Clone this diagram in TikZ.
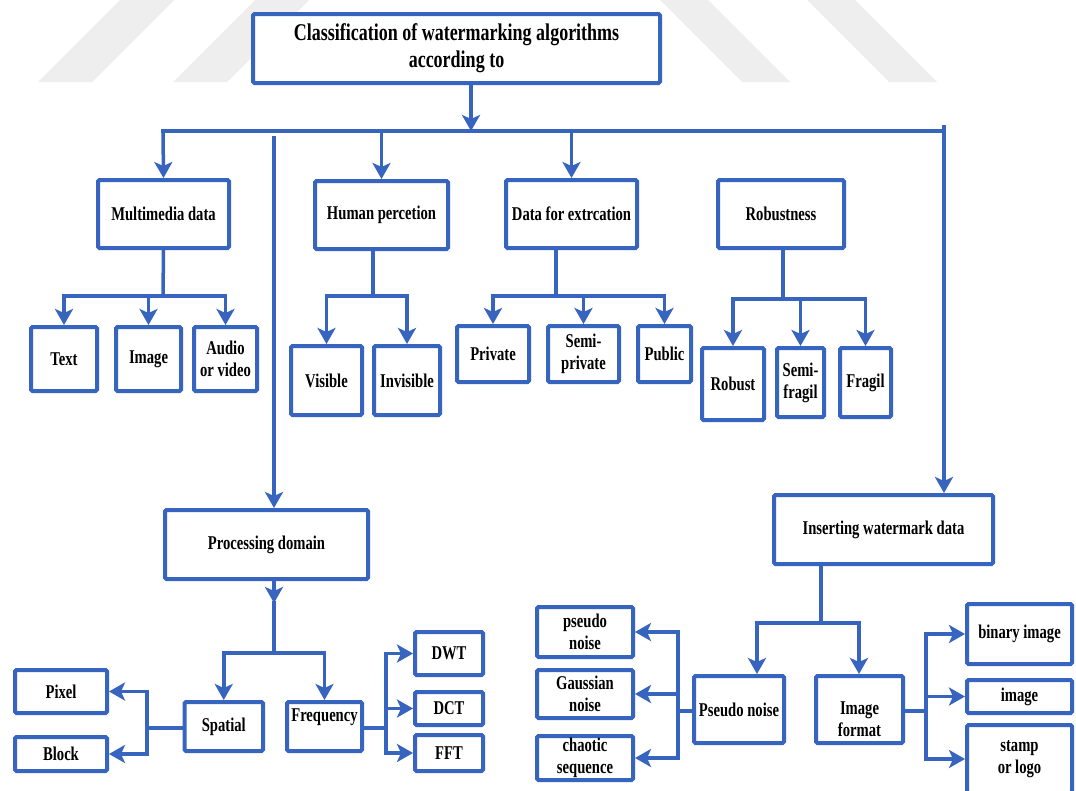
\documentclass[tikz,border=0pt]{standalone}
\usepackage{fontspec}
\setmainfont{Liberation Serif}[FakeStretch=0.75]
\usetikzlibrary{arrows.meta,calc}
\definecolor{wblue}{RGB}{54,100,190}
\definecolor{wgray}{RGB}{238,238,238}
\newcommand\bx[6]{\node[box,minimum width=#4pt,minimum height=#5pt] (#1) at (#2,#3) {#6};}
\begin{document}
\begin{tikzpicture}[x=1pt,y=-1pt,
  box/.style={draw=wblue,line width=4pt,fill=white,rounded corners=1.5pt,inner sep=0pt,align=center,
    font=\bfseries\fontsize{19.5}{22}\selectfont},
  conn/.style={draw=wblue,line width=3.5pt,line cap=rect},
  arr/.style={draw=wblue,line width=3.5pt,-{Stealth[length=16pt,width=18pt,inset=4pt]}},
  stripe/.style={fill=wgray,draw=none}]
\useasboundingbox (0,0) rectangle (1076,790);
\fill[white] (0,0) rectangle (1076,790);
\clip (0,0) rectangle (1076,790);
% watermark stripes
\path[stripe] (38,82) -- (92,82) -- (174,0) -- (120,0) -- cycle;
\path[stripe] (173,82) -- (227,82) -- (309,0) -- (255,0) -- cycle;
\path[stripe] (742,82) -- (790,82) -- (708,0) -- (660,0) -- cycle;
\path[stripe] (889,82) -- (937,82) -- (855,0) -- (807,0) -- cycle;
% nodes
\node[box,font=\bfseries\fontsize{24}{27}\selectfont,minimum width=407pt,minimum height=69pt] (title) at (456.5,48.5)
  {Classification of watermarking algorithms\\according to};
\bx{mm}{163.5}{214}{131}{68}{Multimedia data}
\bx{hp}{381.5}{215}{133}{68}{Human percetion}
\bx{de}{571.5}{214}{131}{68}{Data for extrcation}
\bx{rb}{781}{214}{126}{68}{Robustness}
\bx{text}{64}{359}{66}{64}{Text}
\bx{image}{148.5}{359}{65}{64}{Image}
\bx{audio}{225.5}{359}{63}{64}{Audio\\or video}
\bx{visible}{326.5}{380.5}{71}{69}{Visible}
\bx{invisible}{407}{380.5}{66}{69}{Invisible}
\bx{private}{493}{354}{72}{56}{Private}
\bx{semipriv}{583.5}{354}{71}{56}{Semi-\\private}
\bx{public}{664.5}{354}{53}{56}{Public}
\bx{robust}{733}{384}{62}{72}{Robust}
\bx{semifragil}{800.5}{382.5}{47}{69}{Semi-\\fragil}
\bx{fragil}{865.5}{382.5}{51}{69}{Fragil}
\bx{proc}{266.5}{544.5}{203}{69}{Processing domain}
\bx{ins}{883.5}{529.5}{219}{69}{Inserting watermark data}
\bx{spatial}{223.75}{726.5}{78.5}{49}{Spatial}
\bx{freq}{324.5}{726.5}{75}{49}{\raisebox{9pt}[\height][\depth]{Frequency}}
\bx{pixel}{61}{691.5}{92}{43}{Pixel}
\bx{block}{61}{754}{92}{34}{Block}
\bx{dwt}{449}{653.5}{68}{43}{DWT}
\bx{dct}{449}{708.5}{68}{33}{DCT}
\bx{fft}{449}{753}{68}{36}{FFT}
\bx{pn}{739}{709.5}{90}{67}{Pseudo noise}
\bx{imf}{859.5}{709.5}{87}{67}{\raisebox{-12pt}[\height][\depth]{\begin{tabular}{@{}c@{}}Image\\format\end{tabular}}}
\bx{psn}{585}{632}{96}{50}{pseudo\\noise}
\bx{gau}{585}{694}{96}{48}{Gaussian\\noise}
\bx{cha}{585}{758}{96}{44}{chaotic\\sequence}
\bx{bin}{1019.5}{634}{105}{60}{binary image}
\bx{img}{1019.5}{696.5}{105}{33}{image}
\bx{stamp}{1019.5}{759}{105}{68}{stamp\\or logo}
% junction coordinates
\coordinate (busL) at (163,131);
\coordinate (busR) at (944,131);
\coordinate (busRtop) at (944,127);
\coordinate (busT) at (471,131);
\coordinate (vtop) at (274,136);
% top level
\draw[conn] (busL) -- (busR) -- (busRtop);
\draw[arr] (title.south -| busT) -- (busT);
\draw[arr] (busL) -- (mm.north);
\draw[arr] (hp.north |- busL) -- (hp.north);
\draw[arr] (de.north |- busL) -- (de.north);
\draw[arr] (busR) -- (ins.north -| busR);
\draw[arr] (vtop) -- (proc.north -| vtop);
% multimedia
\coordinate (mmj) at (163,296);
\draw[conn] (mm.south) -- (mmj);
\draw[conn] (text.north |- mmj) -- (audio.north |- mmj);
\draw[arr] (text.north |- mmj) -- (text.north);
\draw[arr] (image.north |- mmj) -- (image.north);
\draw[arr] (audio.north |- mmj) -- (audio.north);
% human
\coordinate (hpj) at (373,296);
\draw[conn] (hp.south -| hpj) -- (hpj);
\draw[conn] (visible.north |- hpj) -- (invisible.north |- hpj);
\draw[arr] (visible.north |- hpj) -- (visible.north);
\draw[arr] (invisible.north |- hpj) -- (invisible.north);
% data for extraction
\coordinate (dej) at (556,296);
\draw[conn] (de.south -| dej) -- (dej);
\draw[conn] (private.north |- dej) -- (public.north |- dej);
\draw[arr] (private.north |- dej) -- (private.north);
\draw[arr] (semipriv.north |- dej) -- (semipriv.north);
\draw[arr] (public.north |- dej) -- (public.north);
% robustness
\coordinate (rbj) at (783,299);
\draw[conn] (rb.south -| rbj) -- (rbj);
\draw[conn] (robust.north |- rbj) -- (fragil.north |- rbj);
\draw[arr] (robust.north |- rbj) -- (robust.north);
\draw[arr] (semifragil.north |- rbj) -- (semifragil.north);
\draw[arr] (fragil.north |- rbj) -- (fragil.north);
% processing domain
\coordinate (pa) at (274,603);
\coordinate (pj) at (274,653);
\draw[arr] (proc.south -| pa) -- (pa);
\draw[conn] (pa) -- (pj);
\draw[conn] (spatial.north |- pj) -- (freq.north |- pj);
\draw[arr] (spatial.north |- pj) -- (spatial.north);
\draw[arr] (freq.north |- pj) -- (freq.north);
% spatial
\coordinate (sv) at (147,728);
\draw[conn] (spatial.west |- sv) -- (sv);
\draw[conn] (pixel.east -| sv) -- (block.east -| sv);
\draw[arr] (pixel.east -| sv) -- (pixel.east);
\draw[arr] (block.east -| sv) -- (block.east);
% frequency
\coordinate (fv) at (386,728);
\draw[conn] (freq.east |- fv) -- (fv);
\draw[conn] (dwt.west -| fv) -- (fft.west -| fv);
\draw[arr] (dwt.west -| fv) -- (dwt.west);
\draw[arr] (dct.west -| fv) -- (dct.west);
\draw[arr] (fft.west -| fv) -- (fft.west);
% inserting watermark data
\coordinate (ij) at (821,623);
\draw[conn] (ins.south -| ij) -- (ij);
\draw[conn] (ij -| 757,0) -- (ij -| 859,0);
\coordinate (ijl) at (757,623);
\coordinate (ijr) at (859,623);
\draw[arr] (ijl) -- (pn.north -| ijl);
\draw[arr] (ijr) -- (imf.north -| ijr);
% pseudo noise
\coordinate (pv) at (678,711);
\draw[conn] (pn.west |- pv) -- (pv);
\draw[conn] (psn.east -| pv) -- (cha.east -| pv);
\draw[arr] (psn.east -| pv) -- (psn.east);
\draw[arr] (gau.east -| pv) -- (gau.east);
\draw[arr] (cha.east -| pv) -- (cha.east);
% image format
\coordinate (iv) at (926,711);
\draw[conn] (imf.east |- iv) -- (iv);
\draw[conn] (bin.west -| iv) -- (stamp.west -| iv);
\draw[arr] (bin.west -| iv) -- (bin.west);
\draw[arr] (img.west -| iv) -- (img.west);
\draw[arr] (stamp.west -| iv) -- (stamp.west);
\end{tikzpicture}
\end{document}
